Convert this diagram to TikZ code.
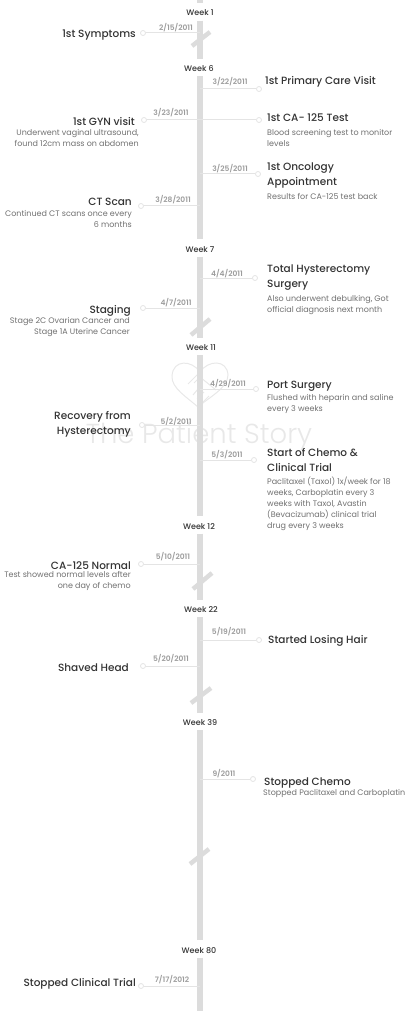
\documentclass[tikz,border=0pt]{standalone}
\usepackage{fontspec}
\setmainfont{Poppins}
\newfontfamily\medfont{Poppins Medium}
\newfontfamily\semifont{Poppins SemiBold}
\newfontfamily\lightfont{Poppins Light}
\usetikzlibrary{positioning}

\definecolor{barcol}{HTML}{DCDCDC}
\definecolor{linecol}{HTML}{E4E4E4}
\definecolor{datecol}{HTML}{9C9C9C}
\definecolor{titlecol}{HTML}{333333}
\definecolor{desccol}{HTML}{707070}
\definecolor{markcol}{HTML}{E8E8E8}

\begin{document}
\begin{tikzpicture}[
  x=1pt, y=-1pt,
  spine/.style={draw=barcol, line width=6pt},
  slash/.style={draw=barcol, line width=4.5pt},
  tick/.style={draw=linecol, line width=1pt},
  dot/.style={circle, draw=linecol, fill=white, line width=.8pt, inner sep=0pt, minimum size=5pt},
  week/.style={inner sep=0pt, minimum height=17pt, text height=8pt, text depth=0pt, font=\medfont\fontsize{8}{10}\selectfont, text=titlecol},
  dated/.style={inner sep=0pt, yshift=-1pt, font=\semifont\fontsize{7.5}{10}\selectfont, text=datecol},
  event/.style={inner sep=0pt, yshift=-1.5pt, align=left, font=\medfont\fontsize{10.5}{15}\selectfont, text=titlecol},
  eventl/.style={inner sep=0pt, yshift=-1.5pt, align=right, font=\medfont\fontsize{10.5}{15}\selectfont, text=titlecol},
  note/.style={inner sep=0pt, yshift=-1pt, align=left, font=\fontsize{8}{11}\selectfont, text=desccol},
  notel/.style={inner sep=0pt, yshift=-1pt, align=right, font=\fontsize{8}{11}\selectfont, text=desccol}
]
  \useasboundingbox (0,0) rectangle (410,1024);

  % watermark
  \draw[markcol, line width=1pt] (200,372) .. controls (192,360) and (173,359) .. (172,376) .. controls (171,388) and (188,398) .. (198,407) .. controls (208,398) and (228,388) .. (228,375) .. controls (227,359) and (208,360) .. (200,372) -- (188,384);
  \draw[markcol, line width=1pt] (194,383) -- (200,377) -- (216,390);
  \draw[markcol, line width=1pt] (193,395) -- (198,389) (197,399) -- (204,392) (202,403) -- (209,396);
  \node[inner sep=0pt, font=\lightfont\fontsize{27.5}{30}\selectfont, text=markcol] (brand) at (199,437) {The Patient Story};

  % weeks
  \coordinate (axis) at (200,0);
  \coordinate (top) at (200,0);
  \coordinate (bottom) at (200,1011);
  \node[week] (w1) at (200,12) {Week 1};
  \node[week] (w6) at (199,67.5) {Week 6};
  \node[week] (w7) at (200,248) {Week 7};
  \node[week] (w11) at (201,346.5) {Week 11};
  \node[week] (w12) at (199,525) {Week 12};
  \node[week] (w22) at (201,608.5) {Week 22};
  \node[week] (w39) at (200,721.5) {Week 39};
  \node[week] (w80) at (199,949) {Week 80};

  \draw[spine] (top) -- (axis |- w1.north);
  \draw[spine] (axis |- w1.south) -- (axis |- w6.north);
  \draw[spine] (axis |- w6.south) -- (axis |- w7.north);
  \draw[spine] (axis |- w7.south) -- (axis |- w11.north);
  \draw[spine] (axis |- w11.south) -- (axis |- w12.north);
  \draw[spine] (axis |- w12.south) -- (axis |- w22.north);
  \draw[spine] (axis |- w22.south) -- (axis |- w39.north);
  \draw[spine] (axis |- w39.south) -- (axis |- w80.north);
  \draw[spine] (axis |- w80.south) -- (bottom);

  % breaks
  \draw[slash] (192,46) -- (210,32);
  \draw[slash] (191,335) -- (210,319);
  \draw[slash] (193,589) -- (212,573);
  \draw[slash] (191,703) -- (211,688);
  \draw[slash] (190,864) -- (209,849);

  % left side
  \node[dot] (symptoms) at (143,33) {};
  \node[eventl, anchor=east] (symptomsT) at (136,34) {1st Symptoms};
  \node[dated] (symptomsD) at (176,27) {2/15/2011};
  \draw[tick] (symptoms) -- (axis |- symptoms);

  \node[dot] (gyn) at (144,120) {};
  \node[eventl, anchor=east] (gynT) at (135,120) {1st GYN visit};
  \node[notel, anchor=north east] (gynN) at (139,128) {Underwent vaginal ultrasound,\\found 12cm mass on abdomen};
  \node[dated] (gynD) at (171,112) {3/23/2011};
  \draw[tick] (gyn) -- (axis |- gyn);

  \node[dot] (ct) at (141,206) {};
  \node[eventl, anchor=east] (ctT) at (132,200) {CT Scan};
  \node[notel, anchor=north east] (ctN) at (132,209) {Continued CT scans once every\\6 months};
  \node[dated] (ctD) at (173,199) {3/28/2011};
  \draw[tick] (ct) -- (axis |- ct);

  \node[dot] (staging) at (143,308) {};
  \node[eventl, anchor=east] (stagingT) at (131,309) {Staging};
  \node[notel, anchor=north east] (stagingN) at (130,316) {Stage 2C Ovarian Cancer and\\Stage 1A Uterine Cancer};
  \node[dated] (stagingD) at (176,302) {4/7/2011};
  \draw[tick] (staging) -- (axis |- staging);

  \node[dot] (recovery) at (142,425) {};
  \node[eventl, anchor=east] (recoveryT) at (131,423) {Recovery from\\Hysterectomy};
  \node[dated] (recoveryD) at (176,421) {5/2/2011};
  \draw[tick] (recovery) -- (axis |- recovery);

  \node[dot] (normal) at (141,564) {};
  \node[eventl, anchor=east] (normalT) at (131,564) {CA-125 Normal};
  \node[notel, anchor=north east] (normalN) at (131,570) {Test showed normal levels after\\one day of chemo};
  \node[dated] (normalD) at (173,556) {5/10/2011};
  \draw[tick] (normal) -- (axis |- normal);

  \node[dot] (shaved) at (143,666) {};
  \node[eventl, anchor=east] (shavedT) at (129,666) {Shaved Head};
  \node[dated] (shavedD) at (171,658) {5/20/2011};
  \draw[tick] (shaved) -- (axis |- shaved);

  \node[dot] (trial) at (141,986) {};
  \node[eventl, anchor=east] (trialT) at (136,982) {Stopped Clinical Trial};
  \node[dated] (trialD) at (172,979) {7/17/2012};
  \draw[tick] (trial) -- (axis |- trial);

  % right side
  \node[dot] (primary) at (259,89) {};
  \node[event, anchor=west] (primaryT) at (265,80) {1st Primary Care Visit};
  \node[dated] (primaryD) at (230,81) {3/22/2011};
  \draw[tick] (axis |- primary) -- (primary);

  \node[dot] (test) at (259,120) {};
  \node[event, anchor=west] (testT) at (267,116) {1st CA- 125 Test};
  \node[note, anchor=north west] (testN) at (267,128) {Blood screening test to monitor\\levels};
  \draw[tick] (axis |- test) -- (test);

  \node[dot] (onco) at (258,174) {};
  \node[event, anchor=west] (oncoT) at (267,173.5) {1st Oncology\\Appointment};
  \node[note, anchor=north west] (oncoN) at (267,192) {Results for CA-125 test back};
  \node[dated] (oncoD) at (230,168) {3/25/2011};
  \draw[tick] (axis |- onco) -- (onco);

  \node[dot] (hyst) at (255,278) {};
  \node[event, anchor=west] (hystT) at (267,276.5) {Total Hysterectomy\\Surgery};
  \node[note, anchor=north west] (hystN) at (267,294) {Also underwent debulking, Got\\official diagnosis next month};
  \node[dated] (hystD) at (227,273) {4/4/2011};
  \draw[tick] (axis |- hyst) -- (hyst);

  \node[dot] (port) at (256,389) {};
  \node[event, anchor=west] (portT) at (267,385) {Port Surgery};
  \node[note, anchor=north west] (portN) at (267,393) {Flushed with heparin and saline\\every 3 weeks};
  \node[dated] (portD) at (228,383) {4/29/2011};
  \draw[tick] (axis |- port) -- (port);

  \node[dot] (chemo) at (254,460) {};
  \node[event, anchor=west] (chemoT) at (267,458.5) {Start of Chemo \&\\Clinical Trial};
  \node[note, anchor=north west] (chemoN) at (267,476) {Paclitaxel (Taxol) 1x/week for 18\\weeks, Carboplatin every 3\\weeks with Taxol, Avastin\\(Bevacizumab) clinical trial\\drug every 3 weeks};
  \node[dated] (chemoD) at (227,454) {5/3/2011};
  \draw[tick] (axis |- chemo) -- (chemo);

  \node[dot] (hair) at (259,640) {};
  \node[event, anchor=west] (hairT) at (268,639) {Started Losing Hair};
  \node[dated] (hairD) at (229,631) {5/19/2011};
  \draw[tick] (axis |- hair) -- (hair);

  \node[dot] (stopped) at (253,779) {};
  \node[event, anchor=west] (stoppedT) at (264,781) {Stopped Chemo};
  \node[note, anchor=north west] (stoppedN) at (263,788) {Stopped Paclitaxel and Carboplatin};
  \node[dated] (stoppedD) at (224,773) {9/2011};
  \draw[tick] (axis |- stopped) -- (stopped);
\end{tikzpicture}
\end{document}
